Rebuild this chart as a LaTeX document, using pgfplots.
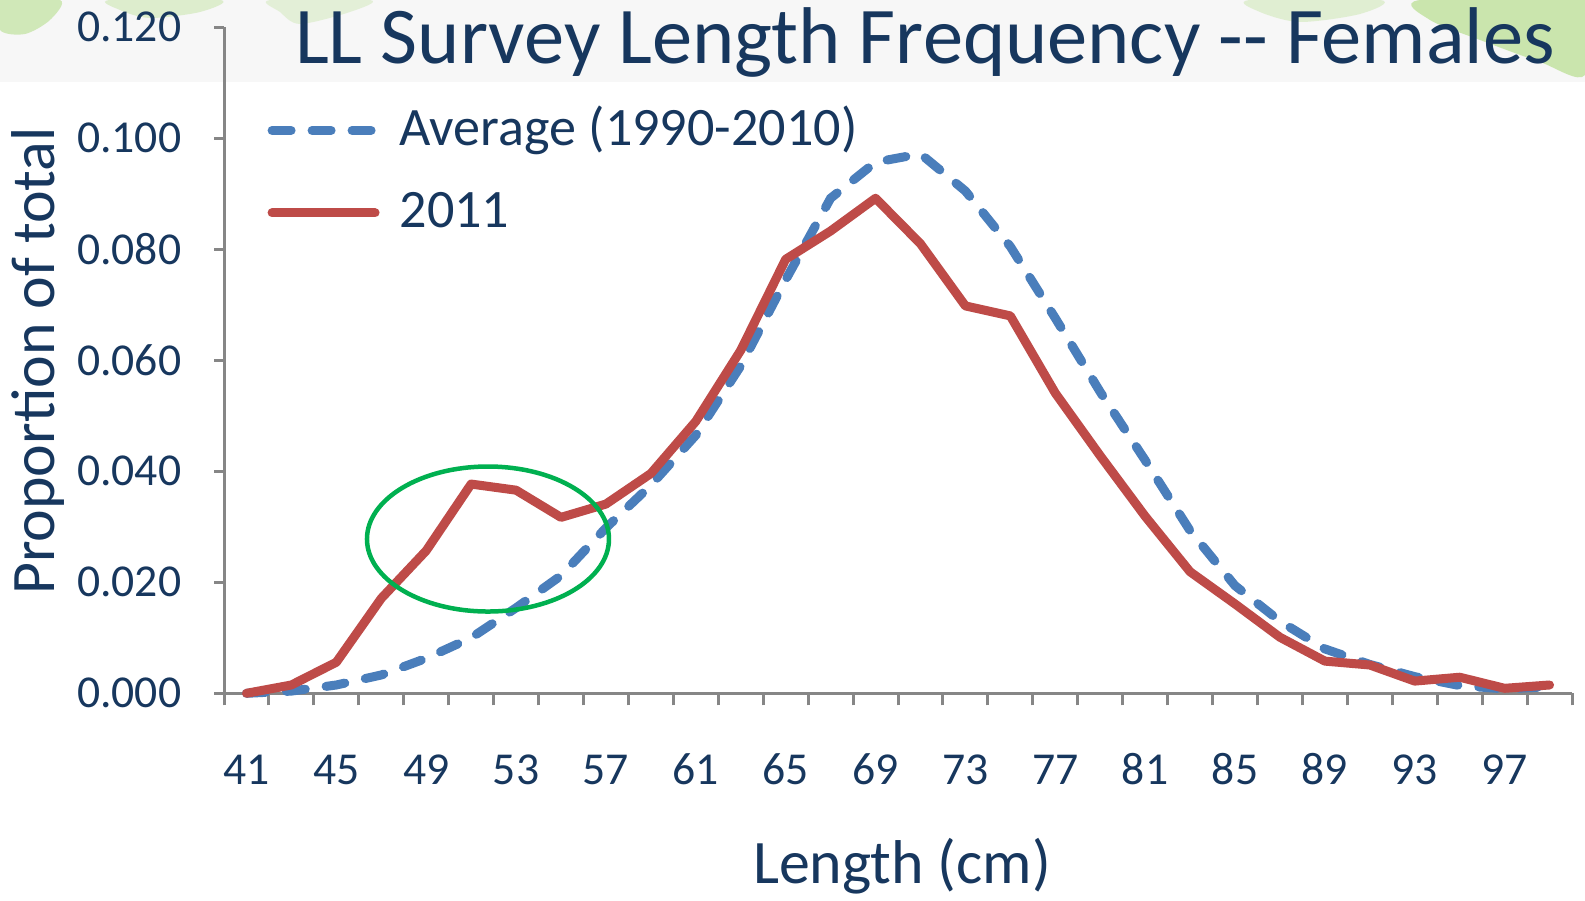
\documentclass[border=0pt]{standalone}
\usepackage{fontspec}
\setmainfont{Carlito}
\usepackage{pgfplots}
\pgfplotsset{compat=1.18}
\definecolor{navy}{HTML}{17375E}
\definecolor{lblue}{HTML}{4A7EBB}
\definecolor{lred}{HTML}{BE4B48}
\definecolor{lgreen}{HTML}{00B050}
\definecolor{axgray}{HTML}{868686}
\definecolor{band}{HTML}{F7F7F7}
\definecolor{mapgreen}{HTML}{B7DE8F}
\begin{document}
\begin{tikzpicture}
\useasboundingbox (0,0) rectangle (158.5mm,90mm);
\fill[white] (0,0) rectangle (158.5mm,90mm);
\fill[band] (0,81.8mm) rectangle (158.5mm,90mm);
% faint map decoration in the top band
\fill[mapgreen, opacity=0.6] plot[smooth cycle] coordinates {(0mm,90mm) (6mm,90mm) (5mm,88mm) (2.5mm,86.6mm) (0mm,87mm)};
\fill[mapgreen, opacity=0.4] plot[smooth cycle] coordinates {(11mm,90mm) (22mm,90mm) (20mm,88.8mm) (15mm,88.2mm) (12mm,89mm)};
\fill[mapgreen, opacity=0.3] plot[smooth cycle] coordinates {(27mm,90mm) (37mm,90mm) (35mm,88.8mm) (30mm,87.6mm) (28mm,88.8mm)};
\fill[mapgreen, opacity=0.7] plot[smooth cycle] coordinates {(142mm,90mm) (158.5mm,90mm) (158.5mm,82.5mm) (154mm,83.8mm) (148mm,86mm) (143mm,88mm)};
\fill[mapgreen, opacity=0.35] plot[smooth cycle] coordinates {(125mm,90mm) (138mm,90mm) (136mm,88.6mm) (130mm,87.8mm) (126mm,88.8mm)};
\begin{axis}[
  at={(22.4mm,20.67mm)}, anchor=south west,
  scale only axis, width=134.8mm, height=66.6mm,
  xmin=40, xmax=100, ymin=0, ymax=0.12,
  axis lines*=left,
  axis line style={axgray, line width=0.3mm, -},
  tick align=outside,
  xtick={41,45,49,53,57,61,65,69,73,77,81,85,89,93,97},
  minor xtick={40,42,...,100},
  major x tick style={draw=none},
  ytick={0,0.02,0.04,0.06,0.08,0.10,0.12},
  major tick length=1mm, minor tick length=1.2mm,
  every tick/.style={axgray, line width=0.3mm},
  tick label style={font=\fontsize{13}{15}\selectfont, text=navy, inner sep=0pt},
  yticklabel style={anchor=east, xshift=-3.2mm, /pgf/number format/.cd, fixed, fixed zerofill, precision=3, assume math mode=true},
  xticklabel style={anchor=base, yshift=-8.1mm, /pgf/number format/.cd, assume math mode=true},
  xlabel={Length (cm)},
  ylabel={Proportion of total},
  label style={font=\fontsize{17.6}{20}\selectfont, text=navy},
  xlabel style={at={(rel axis cs:0.503,-0.2593)}, anchor=center},
  ylabel style={at={(rel axis cs:-0.138,0.499)}, anchor=center, rotate=0},
  title={LL Survey Length Frequency -{}- Females},
  every axis title shift=0pt,
  title style={at={(rel axis cs:0.52,0.9464)}, anchor=base, font=\fontsize{22.9}{26}\selectfont, text=navy},
  legend style={at={(axis cs:41.94,0.1057)}, anchor=north west, draw=none, fill=none,
    font=\fontsize{15.4}{18}\selectfont, text=navy, inner sep=0pt, outer sep=0pt,
    row sep=3.1mm, nodes={inner sep=0pt, text height=3.85mm, text depth=1.3mm}},
  legend cell align=left,
  legend image code/.code={\path (0mm,0mm) (12.3mm,0mm); \draw[#1] (0mm,0.2mm) -- (10.3mm,0.2mm);},
  clip=false,
]
\addplot[lblue, line width=0.9mm, line cap=round, dash pattern=on 1.9mm off 2.1mm] coordinates {
(41,0.0000) (43,0.0004) (45,0.0015) (47,0.0033) (49,0.0063) (51,0.0100)
(53,0.0154) (55,0.0212) (57,0.0298) (59,0.0375) (61,0.0465) (63,0.0590)
(65,0.0745) (67,0.0892) (69,0.0957) (71,0.0972) (73,0.0905) (75,0.0805)
(77,0.0676) (79,0.0543) (81,0.0420) (83,0.0293) (85,0.0194) (87,0.0130)
(89,0.0080) (91,0.0052) (93,0.0030) (95,0.0014) (97,0.0008) (99,0.0012)
};
\addlegendentry{Average (1990-2010)}
\addplot[lred, line width=0.9mm, line cap=round, line join=round] coordinates {
(41,0.0000) (43,0.0015) (45,0.0056) (47,0.0171) (49,0.0257) (51,0.0377)
(53,0.0366) (55,0.0317) (57,0.0341) (59,0.0396) (61,0.0490) (63,0.0618)
(65,0.0782) (67,0.0833) (69,0.0892) (71,0.0810) (73,0.0698) (75,0.0680)
(77,0.0541) (79,0.0428) (81,0.0319) (83,0.0219) (85,0.0161) (87,0.0101)
(89,0.0058) (91,0.0051) (93,0.0022) (95,0.0029) (97,0.0009) (99,0.0015)
};
\addlegendentry{2011}
\draw[lgreen, line width=0.45mm] (axis cs:51.75,0.0278) ellipse [x radius=12.1mm, y radius=7.25mm];
\end{axis}
\end{tikzpicture}
\end{document}
